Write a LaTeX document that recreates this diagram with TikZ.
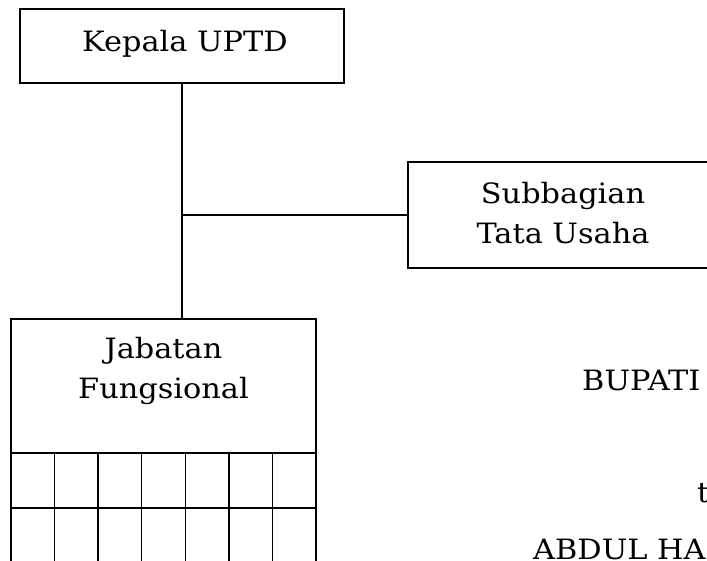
\documentclass[tikz,border=0pt]{standalone}
\usepackage{fontspec}
\setmainfont[FakeStretch=1.085]{DejaVu Serif}
\begin{document}
\begin{tikzpicture}[x=1pt,y=-1pt,
  box/.style={draw,line width=1.4pt,rectangle,inner sep=0pt},
  lbl/.style={font=\fontsize{28}{40}\selectfont,align=center,inner sep=0pt},
  conn/.style={line width=1.4pt}]
\useasboundingbox (0,0) rectangle (707,560);
\clip (0,0) rectangle (707,560);
\fill[white] (0,0) rectangle (707,560);
% Kepala UPTD
\node[box,minimum width=324pt,minimum height=74pt] (kepala) at (182,46) {};
\node[lbl] (kepalat) at (185,44) {Kepala UPTD};
% Subbagian
\node[box,minimum width=310pt,minimum height=106pt] (sub) at (563,215) {};
\node[lbl] (subt) at (563,213) {Subbagian\\Tata Usaha};
% Jabatan
\node[box,minimum width=305pt,minimum height=134pt] (jab) at (163.5,386) {};
\node[lbl] (jabt) at (163.5,371) {Jabatan\\Fungsional};
% grid below
\foreach \r in {0,1} {
  \foreach \c in {0,...,6} {
    \draw[line width=1.4pt] ({11+\c*305/7},{453+\r*55}) rectangle ({11+(\c+1)*305/7},{453+(\r+1)*55});
  }
}
% connectors
\coordinate (branch) at (kepala.south |- sub.west);
\draw[conn] (kepala.south) -- (kepala.south |- jab.north);
\draw[conn] (branch) -- (sub.west);
% signature text
\node[lbl,anchor=west] (bupati) at (582,380) {BUPATI};
\node[lbl,anchor=west] (tt) at (697,493) {t};
\node[lbl,anchor=base west] (abdul) at (533,559) {ABDUL HA};
\end{tikzpicture}
\end{document}
